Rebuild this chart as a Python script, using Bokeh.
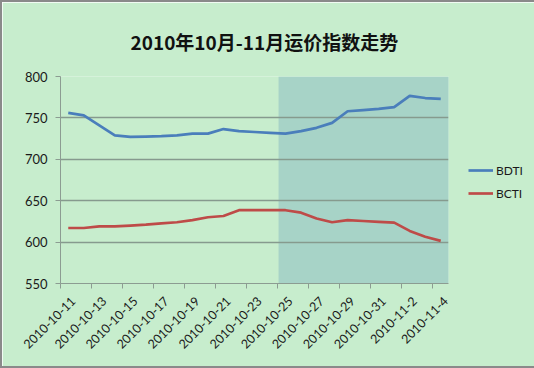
import math
from bokeh.plotting import figure
from bokeh.models import (FixedTicker, Title, Legend, LegendItem, Range1d)
from bokeh.embed import file_html
from bokeh.resources import INLINE

title = "2010年10月-11月运价指数走势"
dates = ["2010-10-11", "2010-10-12", "2010-10-13", "2010-10-14", "2010-10-15",
         "2010-10-16", "2010-10-17", "2010-10-18", "2010-10-19", "2010-10-20",
         "2010-10-21", "2010-10-22", "2010-10-23", "2010-10-24", "2010-10-25",
         "2010-10-26", "2010-10-27", "2010-10-28", "2010-10-29", "2010-10-30",
         "2010-10-31", "2010-11-1", "2010-11-2", "2010-11-3", "2010-11-4"]
bdti = [756, 753, 741, 729, 727, 727.5, 728, 729, 731, 731, 736.5, 734, 733, 732,
        731, 734, 738, 744, 758, 759.5, 761, 763, 776.5, 774, 773]
bcti = [617, 617, 619, 619, 620, 621, 622.5, 624, 626.5, 630, 631.5, 638.5, 638.5,
        638.7, 638.5, 635.5, 628.5, 624, 626.5, 625.5, 624.5, 623.5, 613.5, 606.5, 601.5]
yticks = [550, 600, 650, 700, 750, 800]
shade_from = "2010-10-25"

n = len(dates)
xs = [i + 0.5 for i in range(n)]
shade_left = dates.index(shade_from) + 0.05

BG = "#c7edcd"
FONT = "Lato"

p = figure(frame_width=388, frame_height=207, output_backend="svg",
           toolbar_location=None, x_range=Range1d(0, n), y_range=Range1d(550, 800),
           min_border_left=58, min_border_right=84, min_border_top=74,
           min_border_bottom=83)
p.background_fill_color = BG
p.border_fill_color = BG
p.outline_line_color = None
p.styles = {"border": "2px solid #8a8a8a"}

# shaded region
p.quad(left=[shade_left], right=[n + 0.3], bottom=[550], top=[800],
       fill_color="#a7d3c7", line_color=None, level="image")

r1 = p.line(xs, bdti, line_color="#4a7ebb", line_width=2.7)
r2 = p.line(xs, bcti, line_color="#be4b48", line_width=2.7)

# axes
xa = p.xaxis[0]
LOFF = 0.3
label_pos = [x + LOFF for x in xs[::2]]
xa.ticker = FixedTicker(ticks=label_pos, minor_ticks=list(range(0, n + 1, 2)))
xa.major_label_overrides = {c: dates[round(c - 0.5 - LOFF)] for c in label_pos}
xa.major_label_orientation = math.pi / 4
xa.major_tick_out = 0
xa.major_tick_in = 0
xa.minor_tick_out = 5
xa.minor_tick_in = 0
xa.axis_line_color = "#8c9c92"
xa.minor_tick_line_color = "#8c9c92"
xa.major_label_text_font = FONT
xa.major_label_text_font_size = "12.5px"
xa.major_label_text_color = "#1a1a1a"
xa.major_label_standoff = 10

ya = p.yaxis[0]
ya.ticker = FixedTicker(ticks=yticks)
ya.minor_tick_line_color = None
ya.major_tick_out = 5
ya.major_tick_in = 0
ya.axis_line_color = "#8c9c92"
ya.major_tick_line_color = "#8c9c92"
ya.major_label_text_font = FONT
ya.major_label_text_font_size = "13px"
ya.major_label_text_color = "#1a1a1a"
ya.major_label_standoff = 8

p.xgrid.grid_line_color = None
p.ygrid.ticker = FixedTicker(ticks=yticks)
p.ygrid.grid_line_color = "#869a8e"
p.ygrid.grid_line_width = 1.3

legend = Legend(items=[LegendItem(label="BDTI", renderers=[r1]),
                       LegendItem(label="BCTI", renderers=[r2])],
                location=(20, 80), orientation="vertical",
                background_fill_alpha=0, border_line_color=None,
                padding=0, margin=0, spacing=3, glyph_width=25, glyph_height=20,
                label_standoff=3, label_text_font=FONT, label_text_font_size="12px",
                label_text_color="#1a1a1a")
p.add_layout(legend, "right")

t = Title(text=title, align="left", offset=70, standoff=44,
          text_font="Noto Sans CJK SC", text_font_style="bold",
          text_font_size="19px", text_color="#111111")
p.add_layout(t, "above")

open("out.html", "w").write(file_html(p, INLINE))
